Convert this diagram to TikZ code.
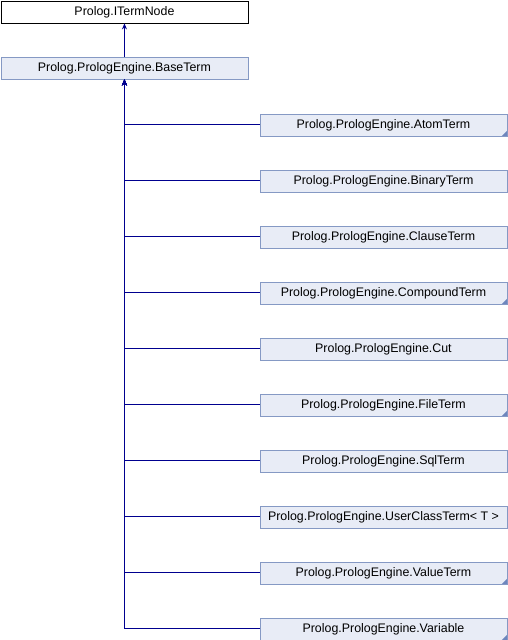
\documentclass[tikz,border=0pt]{standalone}
\usepackage{fontspec}
\setmainfont{Liberation Sans}
\usetikzlibrary{arrows.meta}
\definecolor{boxfill}{HTML}{E8ECF6}
\definecolor{boxdraw}{HTML}{8599C4}
\definecolor{lnk}{HTML}{00008F}
\definecolor{tri}{HTML}{6E86BD}
\begin{document}
\begin{tikzpicture}[x=1pt,y=-1pt,
  cls/.style={draw=boxdraw,fill=boxfill,line width=0.9pt,minimum width=247pt,minimum height=22pt,inner sep=0pt,anchor=north west,font=\fontsize{12.4}{14}\selectfont},
  top/.style={draw=black,fill=white,line width=0.9pt,minimum width=247pt,minimum height=22pt,inner sep=0pt,anchor=north west,font=\fontsize{12.4}{14}\selectfont},
  conn/.style={draw=lnk,line width=1pt},
  inh/.style={conn,-{Stealth[length=6pt,width=5pt]}}]
\useasboundingbox (0,0) rectangle (508,640);
\node[top] (iterm) at (0.5,0.5) {Prolog.ITermNode};
\node[cls] (base) at (0.5,56.5) {Prolog.PrologEngine.BaseTerm};
\foreach \name/\txt/\i in {atom/AtomTerm/0,binary/BinaryTerm/1,clause/ClauseTerm/2,compound/CompoundTerm/3,cut/Cut/4,file/FileTerm/5,sql/SqlTerm/6,user/{UserClassTerm< T >}/7,value/ValueTerm/8,var/Variable/9}{
  \node[cls] (\name) at (259.5,113.5+56*\i) {Prolog.PrologEngine.\txt};
  \draw[inh] (\name.west) -| (base.south);
}
\foreach \n in {atom,compound,file,value,var}{
  \fill[tri] ([xshift=-0.5pt,yshift=0.5pt]\n.south east) -- ++(-5,0) -- ++(5,-5) -- cycle;
}
\draw[inh] (base.north) -- (iterm.south);
\end{tikzpicture}
\end{document}
